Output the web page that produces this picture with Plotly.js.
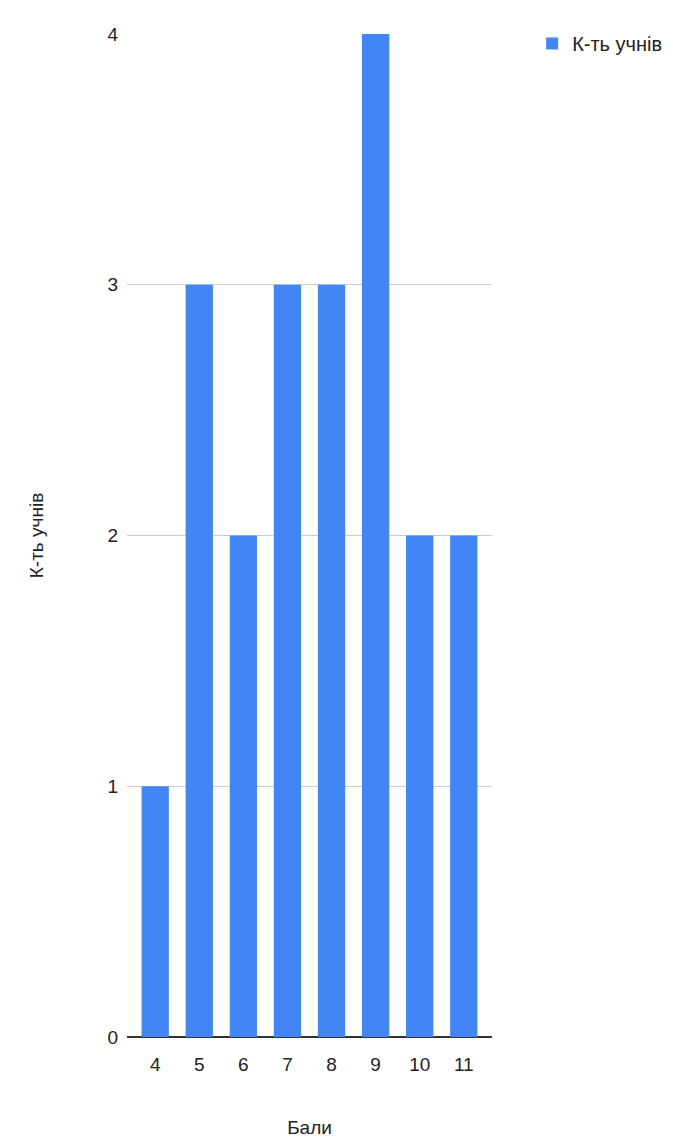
<!DOCTYPE html>
<html>
<head>
<meta charset="utf-8">
<script src="https://cdn.plot.ly/plotly-3.0.1.min.js"></script>
<style>html,body{margin:0;padding:0;background:#fff;}#chart{width:673px;height:1139px;}</style>
</head>
<body>
<div id="chart"></div>
<script>
const categories = ["4", "5", "6", "7", "8", "9", "10", "11"];
const counts = [1, 3, 2, 3, 3, 4, 2, 2];
const seriesName = "К-ть учнів";
const xTitle = "Бали";
const yTitle = "К-ть учнів";
const yTicks = [0, 1, 2, 3, 4];

const FONT = "Liberation Sans";

const trace = {
  type: "bar",
  x: categories,
  y: counts,
  name: seriesName,
  marker: {color: "#4285F4"},
  showlegend: true,
  hoverinfo: "x+y"
};

const layout = {
  width: 673,
  height: 1139,
  margin: {l: 127, r: 181, t: 34, b: 102, autoexpand: false},
  paper_bgcolor: "#ffffff",
  plot_bgcolor: "#ffffff",
  bargap: 0.38,
  font: {family: FONT, size: 18, color: "#222222"},
  xaxis: {
    type: "category",
    range: [-0.64, 7.64],
    showgrid: false,
    showline: false,
    zeroline: false,
    ticks: "",
    ticklen: 0,
    ticklabelstandoff: 14,
    automargin: false,
    tickfont: {family: FONT, size: 19, color: "#222222"},
    title: {text: xTitle, font: {family: FONT, size: 19, color: "#222222"}, standoff: 46},
    fixedrange: true
  },
  yaxis: {
    range: [0, 4],
    tickvals: yTicks,
    ticktext: yTicks.map(String),
    showgrid: true,
    gridcolor: "#cccccc",
    gridwidth: 1,
    zeroline: true,
    zerolinecolor: "#333333",
    zerolinewidth: 1.5,
    showline: false,
    ticks: "",
    automargin: false,
    tickfont: {family: FONT, size: 19, color: "#222222"},
    ticklabelstandoff: 8,
    title: {text: yTitle, font: {family: FONT, size: 19, color: "#222222"}, standoff: 58},
    fixedrange: true
  },
  showlegend: true,
  legend: {
    x: 1.11, xanchor: "left",
    y: 1.01, yanchor: "top",
    font: {family: FONT, size: 20, color: "#222222"},
    itemwidth: 30,
    bgcolor: "rgba(0,0,0,0)"
  }
};

Plotly.newPlot("chart", [trace], layout, {displayModeBar: false, staticPlot: true});
</script>
</body>
</html>
